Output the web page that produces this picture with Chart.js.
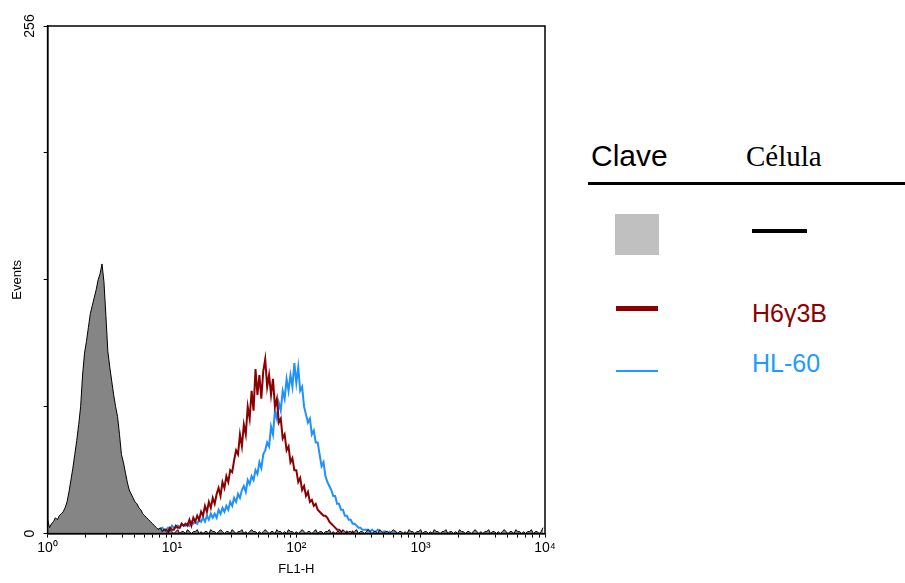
<!DOCTYPE html>
<html>
<head>
<meta charset="utf-8">
<script src="https://cdn.jsdelivr.net/npm/chart.js@4"></script>
<style>
  body { margin: 0; background: #fff; width: 905px; height: 583px; overflow: hidden; position: relative; font-family: "Liberation Sans", Arial, sans-serif; }
  #box { position: absolute; left: 0; top: 0; width: 590px; height: 583px; }
  .lg { position: absolute; white-space: nowrap; line-height: 1; }
</style>
</head>
<body>
<div id="box"><canvas id="histo"></canvas></div>

<div class="lg" style="left:591px; top:141px; font-size:30px; color:#000;">Clave</div>
<div class="lg" style="left:746px; top:142px; font-size:29px; font-family:'Liberation Serif','Times New Roman',serif; color:#000;">Célula</div>
<div class="lg" style="left:588px; top:182px; width:317px; height:3px; background:#000;"></div>
<div class="lg" style="left:615px; top:214px; width:44px; height:41px; background:#c0c0c0;"></div>
<div class="lg" style="left:752px; top:229px; width:55px; height:4px; background:#000;"></div>
<div class="lg" style="left:616px; top:306px; width:42px; height:5px; background:#8b0000;"></div>
<div class="lg" style="left:752px; top:301px; font-size:25px; color:#8b0000;">H6γ3B</div>
<div class="lg" style="left:616px; top:370px; width:42px; height:2px; background:#1e9bff;"></div>
<div class="lg" style="left:752px; top:351px; font-size:25px; color:#1e9bff;">HL-60</div>

<script>
// FL1-H histogram, 256 channels over 4 log decades
const majorChannels = [0, 64, 128, 192, 256]
const tickLabels = ['10⁰', '10¹', '10²', '10³', '10⁴']
const yLabelValues = [0, 256]
const yLabels = ['0', '256']

// control (gray filled), channels 0..255
const grayCounts = [
  7,3,5,6,8,7,9,10,11,13,16,21,27,33,40,47,
  55,64,80,91,97,104,111,115,119,123,128,131,136,127,110,92,
  84,77,70,64,59,50,40,36,31,26,22,20,18,16,15,13,
  12,10,9,8,7,6,5,4,3,2,3,1,2,1,0,2,
  1,0,1,2,0,1,1,0,2,1,0,1,1,2,0,1,
  0,1,1,0,2,1,1,0,1,2,1,0,1,1,0,2,
  1,0,1,1,2,0,1,0,1,2,1,1,0,1,0,1,
  2,1,0,1,1,0,2,1,1,0,1,0,2,1,1,0,
  1,0,1,2,1,0,1,1,0,1,2,0,1,1,0,1,
  1,2,0,1,0,1,1,0,2,1,0,1,1,0,1,2,
  0,1,1,0,1,2,1,0,1,1,0,2,1,0,1,1,
  0,1,2,1,0,1,1,0,1,0,2,1,1,0,1,1,
  2,0,1,1,0,1,0,2,1,1,0,1,1,2,0,1,
  1,0,1,0,2,1,1,0,1,1,0,1,2,1,0,1,
  0,1,1,2,0,1,1,0,1,0,1,2,1,0,1,1,
  0,2,1,1,0,1,0,1,1,2,0,1,1,0,1,3
]

// H6γ3B, starting at channel 55
const redStart = 55
const redCounts = [
  1,0,2,1,1,2,2,1,3,
  2,2,4,3,3,5,4,5,4,7,4,8,6,9,7,11,
  9,14,11,16,13,18,15,20,23,19,26,23,29,26,32,31,
  37,42,40,50,44,55,50,64,58,72,62,83,70,80,68,82,
  88,74,80,70,78,64,68,56,58,48,50,42,44,36,38,32,
  32,26,28,22,24,19,21,16,17,14,15,12,11,10,9,9,
  8,6,5,4,3,2,2,1,1,0,1,0,0,1,0,0
]

// HL-60, starting at channel 55
const blueStart = 55
const blueCounts = [
  1,2,1,2,3,2,2,3,2,
  4,3,3,4,3,5,4,4,5,4,6,5,6,5,7,6,
  8,6,9,7,10,8,10,8,12,10,13,11,14,12,16,14,
  18,16,20,18,22,24,21,27,25,29,27,32,30,36,33,40,
  42,46,44,54,50,62,58,66,62,72,68,78,72,80,74,86,
  76,84,72,74,64,60,56,58,50,52,46,46,40,34,36,29,
  26,24,22,19,19,15,15,12,12,9,9,7,7,5,5,4,
  3,3,2,2,2,2,1,2,1,1,2,1,0,1,1,0,
  1,0,0,1,0,0,0,0
]

const toPoints = (start, counts) => counts.map((v, i) => ({ x: start + i, y: v }))

// log minor tick positions in channel units
const xTickValues = []
for (let d = 0; d < 4; d++) {
  for (let k = 1; k < 10; k++) xTickValues.push(64 * d + 64 * Math.log10(k))
}
xTickValues.push(256)

const frameAndLabels = {
  id: 'frameAndLabels',
  afterDraw(chart) {
    const { ctx, chartArea: a, scales: { y } } = chart
    ctx.save()
    ctx.strokeStyle = '#000'
    ctx.lineWidth = 1.5
    ctx.strokeRect(a.left, a.top, a.right - a.left, a.bottom - a.top)
    ctx.fillStyle = '#000'
    ctx.font = '14px "Liberation Sans", Arial'
    ctx.textAlign = 'center'
    ctx.textBaseline = 'middle'
    yLabelValues.forEach((v, i) => {
      ctx.save()
      ctx.translate(a.left - 17, y.getPixelForValue(v))
      ctx.rotate(-Math.PI / 2)
      ctx.fillText(yLabels[i], 0, 0)
      ctx.restore()
    })
    ctx.restore()
  }
}

const histo = new Chart(
  document.getElementById('histo'),
  {
    type: 'line',
    data: {
      datasets: [
        {
          label: 'Control',
          data: toPoints(0, grayCounts),
          borderColor: '#000000',
          backgroundColor: '#858585',
          borderWidth: 1,
          fill: 'origin',
          pointRadius: 0,
        },
        {
          label: 'H6γ3B',
          data: toPoints(redStart, redCounts),
          borderColor: '#8b0000',
          borderWidth: 2,
          fill: false,
          pointRadius: 0,
        },
        {
          label: 'HL-60',
          data: toPoints(blueStart, blueCounts),
          borderColor: '#1e90ff',
          borderWidth: 2,
          fill: false,
          pointRadius: 0,
        },
      ]
    },
    options: {
      responsive: true,
      maintainAspectRatio: false,
      animation: false,
      layout: { padding: { top: 26, right: 45, bottom: 3, left: 0 } },
      plugins: {
        legend: { display: false },
        tooltip: { enabled: false },
      },
      scales: {
        x: {
          type: 'linear',
          min: 0,
          max: 256,
          afterBuildTicks: (axis) => {
            axis.ticks = xTickValues.map((v) => ({ value: v }))
          },
          grid: { drawOnChartArea: false, tickLength: 4, color: '#000' },
          border: { color: '#000', width: 1.5 },
          ticks: {
            autoSkip: false,
            maxRotation: 0,
            padding: 2,
            color: '#000',
            font: { family: '"Liberation Sans", Arial', size: 14 },
            callback: (value) => {
              const i = majorChannels.findIndex((c) => Math.abs(c - value) < 0.01)
              return i >= 0 ? tickLabels[i] : ''
            }
          },
          title: {
            display: true,
            text: 'FL1-H',
            color: '#000',
            font: { family: '"Liberation Sans", Arial', size: 13 },
            padding: { top: 3, bottom: 3 },
          }
        },
        y: {
          min: 0,
          max: 256,
          ticks: { stepSize: 64, display: false },
          grid: { drawOnChartArea: false, tickLength: 4, color: '#000' },
          border: { color: '#000', width: 1.5 },
          title: {
            display: true,
            text: 'Events',
            color: '#000',
            font: { family: '"Liberation Sans", Arial', size: 13 },
            padding: { top: 10, bottom: 18 },
          }
        }
      }
    },
    plugins: [frameAndLabels]
  }
)
</script>
</body>
</html>
